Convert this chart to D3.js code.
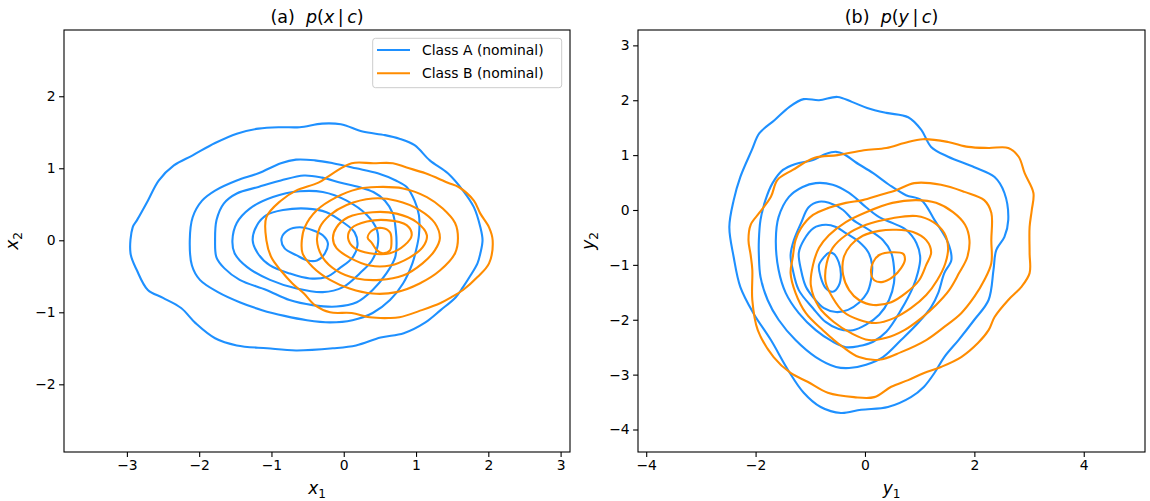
<!DOCTYPE html>
<html>
<head>
<meta charset="utf-8">
<script src="https://d3js.org/d3.v7.min.js"></script>
<style>
  body { margin: 0; background: #fff; }
  svg text { font-family: "DejaVu Sans", sans-serif; fill: #000; }
</style>
</head>
<body>
<svg id="fig" width="1150" height="501"></svg>
<script>

const blue = "#1e90ff", orange = "#ff8c00";

// panel (a)  p(x|c)
const xTicksA = [-3, -2, -1, 0, 1, 2, 3];
const yTicksA = [-2, -1, 0, 1, 2];
const xDomainA = [-3.87, 3.13];
const yDomainA = [-2.94, 2.92];

// panel (b)  p(y|c)
const xTicksB = [-4, -2, 0, 2, 4];
const yTicksB = [-4, -3, -2, -1, 0, 1, 2, 3];
const xDomainB = [-4.15, 5.12];
const yDomainB = [-4.41, 3.28];

const legendLabels = ["Class A (nominal)", "Class B (nominal)"];

// KDE contour lines, outermost level first
const contoursA_classA = [
  [[-2.92,0.18],[-2.86,0.28],[-2.71,0.55],[-2.56,0.83],[-2.35,1.04],[-2.09,1.18],[-1.78,1.35],[-1.48,1.48],[-1.18,1.55],[-0.87,1.57],[-0.61,1.57],[-0.30,1.62],[-0.04,1.61],[0.26,1.51],[0.57,1.46],[0.77,1.41],[0.98,1.32],[1.19,1.11],[1.44,0.93],[1.65,0.69],[1.80,0.46],[1.89,0.18],[1.92,0.00],[1.89,-0.18],[1.85,-0.32],[1.74,-0.51],[1.65,-0.65],[1.55,-0.79],[1.34,-0.97],[1.13,-1.14],[0.83,-1.29],[0.51,-1.35],[0.17,-1.46],[-0.15,-1.50],[-0.66,-1.53],[-1.06,-1.50],[-1.48,-1.46],[-1.78,-1.36],[-2.05,-1.15],[-2.25,-0.94],[-2.50,-0.80],[-2.71,-0.69],[-2.86,-0.42],[-2.95,-0.18]],
  [[-2.13,0.00],[-2.09,0.32],[-1.96,0.55],[-1.78,0.69],[-1.48,0.83],[-1.18,0.93],[-0.87,1.07],[-0.66,1.12],[-0.40,1.11],[-0.15,1.07],[0.17,1.00],[0.47,0.93],[0.72,0.83],[0.87,0.74],[0.98,0.55],[1.04,0.35],[1.04,0.07],[1.00,-0.14],[0.95,-0.32],[0.82,-0.60],[0.64,-0.83],[0.40,-1.01],[0.12,-1.11],[-0.19,-1.14],[-0.51,-1.11],[-0.82,-1.05],[-1.13,-0.97],[-1.44,-0.86],[-1.74,-0.72],[-1.99,-0.55],[-2.10,-0.35]],
  [[-1.78,0.00],[-1.76,0.28],[-1.66,0.51],[-1.48,0.65],[-1.18,0.74],[-0.87,0.83],[-0.55,0.90],[-0.30,0.87],[-0.04,0.80],[0.21,0.74],[0.41,0.67],[0.57,0.55],[0.68,0.37],[0.72,0.14],[0.73,-0.07],[0.71,-0.24],[0.59,-0.46],[0.40,-0.69],[0.18,-0.86],[-0.10,-0.92],[-0.43,-0.90],[-0.75,-0.83],[-1.07,-0.69],[-1.44,-0.55],[-1.65,-0.39],[-1.76,-0.24]],
  [[-1.54,0.00],[-1.48,0.24],[-1.30,0.44],[-0.98,0.60],[-0.61,0.68],[-0.29,0.67],[0.04,0.55],[0.32,0.35],[0.46,0.14],[0.47,-0.07],[0.39,-0.28],[0.22,-0.46],[-0.01,-0.65],[-0.29,-0.72],[-0.65,-0.67],[-1.02,-0.55],[-1.34,-0.37],[-1.51,-0.18]],
  [[-1.26,0.00],[-1.20,0.21],[-1.07,0.35],[-0.84,0.42],[-0.51,0.44],[-0.24,0.39],[-0.01,0.25],[0.15,0.11],[0.19,-0.07],[0.12,-0.24],[-0.06,-0.39],[-0.24,-0.51],[-0.47,-0.53],[-0.75,-0.46],[-1.02,-0.35],[-1.19,-0.18]],
  [[-0.86,0.03],[-0.77,0.14],[-0.61,0.18],[-0.43,0.14],[-0.29,0.07],[-0.22,-0.04],[-0.26,-0.18],[-0.37,-0.28],[-0.50,-0.28],[-0.65,-0.21],[-0.82,-0.11]]
];

const contoursA_classB = [
  [[-1.07,0.00],[-1.07,0.32],[-0.87,0.55],[-0.66,0.69],[-0.35,0.80],[-0.15,0.93],[0.11,1.07],[0.41,1.07],[0.68,1.07],[0.87,1.01],[1.13,0.93],[1.44,0.80],[1.59,0.74],[1.80,0.55],[1.89,0.37],[2.01,0.18],[2.06,0.00],[2.01,-0.32],[1.85,-0.51],[1.65,-0.69],[1.49,-0.79],[1.34,-0.87],[1.08,-0.97],[0.77,-1.07],[0.62,-1.08],[0.36,-1.07],[0.11,-1.01],[-0.19,-1.00],[-0.40,-0.90],[-0.55,-0.74],[-0.71,-0.60],[-0.87,-0.42],[-1.00,-0.24]],
  [[-0.58,0.00],[-0.54,0.18],[-0.37,0.42],[-0.10,0.60],[0.18,0.71],[0.46,0.74],[0.82,0.72],[1.15,0.60],[1.37,0.44],[1.54,0.24],[1.58,0.03],[1.54,-0.18],[1.33,-0.42],[1.05,-0.60],[0.73,-0.72],[0.40,-0.74],[0.08,-0.67],[-0.19,-0.55],[-0.43,-0.37],[-0.57,-0.18]],
  [[-0.37,0.00],[-0.33,0.18],[-0.19,0.35],[0.04,0.49],[0.40,0.58],[0.73,0.55],[1.05,0.42],[1.26,0.24],[1.33,0.03],[1.26,-0.14],[1.09,-0.32],[0.82,-0.49],[0.50,-0.55],[0.18,-0.53],[-0.10,-0.42],[-0.29,-0.24]],
  [[-0.15,0.03],[-0.10,0.18],[0.06,0.32],[0.40,0.39],[0.73,0.37],[1.01,0.25],[1.15,0.07],[1.09,-0.10],[0.91,-0.24],[0.64,-0.35],[0.36,-0.35],[0.08,-0.24],[-0.10,-0.11]],
  [[0.06,0.03],[0.11,0.17],[0.32,0.26],[0.59,0.28],[0.87,0.21],[0.94,0.07],[0.84,-0.07],[0.64,-0.18],[0.36,-0.18],[0.15,-0.11]],
  [[0.33,0.04],[0.40,0.14],[0.53,0.17],[0.64,0.11],[0.66,0.00],[0.64,-0.14],[0.54,-0.18],[0.46,-0.14],[0.39,-0.04]]
];

const contoursB_classA = [
  [[-2.48,-0.31],[-2.40,0.18],[-2.28,0.60],[-2.07,1.09],[-1.93,1.40],[-1.65,1.64],[-1.38,1.88],[-1.12,2.02],[-0.84,2.00],[-0.50,2.06],[-0.24,1.97],[0.04,1.86],[0.39,1.77],[0.79,1.69],[1.03,1.46],[1.21,1.15],[1.52,0.97],[2.00,0.78],[2.37,0.60],[2.55,0.31],[2.62,-0.18],[2.55,-0.49],[2.40,-0.73],[2.35,-1.09],[2.26,-1.64],[2.00,-2.00],[1.71,-2.37],[1.45,-2.68],[1.27,-2.97],[1.08,-3.22],[0.84,-3.41],[0.42,-3.59],[-0.07,-3.64],[-0.44,-3.70],[-0.81,-3.59],[-1.12,-3.33],[-1.41,-2.91],[-1.72,-2.37],[-2.04,-1.88],[-2.28,-1.40],[-2.40,-0.86]],
  [[-1.94,-0.55],[-1.91,-0.18],[-1.82,0.18],[-1.69,0.49],[-1.50,0.73],[-1.27,0.84],[-0.95,0.91],[-0.72,1.02],[-0.53,1.06],[-0.39,1.02],[-0.17,0.87],[0.15,0.67],[0.44,0.46],[0.75,0.27],[1.03,0.18],[1.27,-0.18],[1.52,-0.60],[1.58,-0.91],[1.45,-1.15],[1.34,-1.51],[1.21,-1.77],[0.97,-2.06],[0.66,-2.37],[0.33,-2.68],[0.02,-2.82],[-0.29,-2.88],[-0.53,-2.86],[-0.90,-2.68],[-1.27,-2.37],[-1.58,-2.00],[-1.78,-1.64],[-1.91,-1.22],[-1.94,-0.82]],
  [[-1.63,-0.55],[-1.58,-0.13],[-1.39,0.24],[-1.14,0.42],[-0.90,0.49],[-0.59,0.46],[-0.29,0.31],[0.02,0.05],[0.26,-0.13],[0.51,-0.24],[0.75,-0.36],[0.94,-0.60],[1.01,-0.87],[0.97,-1.13],[0.88,-1.40],[0.66,-1.82],[0.39,-2.22],[0.15,-2.40],[-0.11,-2.48],[-0.35,-2.50],[-0.59,-2.40],[-0.90,-2.19],[-1.21,-1.88],[-1.45,-1.51],[-1.58,-1.09]],
  [[-1.36,-0.82],[-1.30,-0.55],[-1.17,-0.24],[-1.03,0.05],[-0.84,0.15],[-0.66,0.13],[-0.40,0.00],[-0.22,-0.18],[0.07,-0.36],[0.33,-0.55],[0.48,-0.78],[0.53,-1.04],[0.53,-1.33],[0.44,-1.64],[0.26,-1.91],[0.02,-2.09],[-0.22,-2.19],[-0.48,-2.17],[-0.72,-2.04],[-0.95,-1.79],[-1.21,-1.46],[-1.32,-1.09]],
  [[-1.21,-0.78],[-1.12,-0.55],[-0.94,-0.33],[-0.72,-0.27],[-0.53,-0.31],[-0.35,-0.42],[-0.11,-0.58],[0.06,-0.77],[0.13,-1.00],[0.11,-1.28],[0.04,-1.51],[-0.11,-1.69],[-0.31,-1.82],[-0.53,-1.86],[-0.75,-1.79],[-0.94,-1.60],[-1.08,-1.40],[-1.17,-1.09]],
  [[-0.75,-0.86],[-0.66,-0.78],[-0.57,-0.80],[-0.48,-0.95],[-0.44,-1.18],[-0.48,-1.38],[-0.59,-1.49],[-0.72,-1.42],[-0.81,-1.22],[-0.84,-1.00]]
];

const contoursB_classB = [
  [[-2.13,-0.55],[-2.09,-0.27],[-1.93,-0.05],[-1.72,0.24],[-1.60,0.55],[-1.32,0.73],[-0.92,0.95],[-0.50,1.00],[-0.02,1.09],[0.39,1.13],[0.72,1.22],[1.06,1.29],[1.52,1.24],[1.89,1.15],[2.26,1.13],[2.62,1.13],[2.81,0.97],[2.92,0.67],[3.08,0.31],[3.05,0.00],[3.01,-0.31],[3.01,-0.78],[3.01,-1.15],[2.86,-1.40],[2.62,-1.64],[2.37,-1.95],[2.26,-2.19],[2.07,-2.42],[1.76,-2.68],[1.39,-2.86],[1.08,-2.97],[0.79,-3.10],[0.48,-3.22],[0.17,-3.41],[-0.20,-3.41],[-0.68,-3.33],[-1.05,-3.13],[-1.36,-2.97],[-1.67,-2.68],[-1.96,-2.19],[-2.06,-1.64],[-2.06,-1.09],[-2.09,-0.82]],
  [[-1.32,-0.86],[-1.27,-0.55],[-1.17,-0.33],[-0.95,-0.09],[-0.66,0.04],[-0.35,0.13],[-0.04,0.18],[0.26,0.27],[0.57,0.36],[0.90,0.49],[1.39,0.46],[1.82,0.33],[2.18,0.18],[2.31,-0.05],[2.31,-0.55],[2.31,-0.97],[2.18,-1.28],[2.00,-1.58],[1.76,-1.88],[1.45,-2.13],[1.12,-2.37],[0.66,-2.59],[0.26,-2.73],[-0.11,-2.68],[-0.40,-2.50],[-0.77,-2.19],[-1.08,-1.88],[-1.27,-1.51],[-1.36,-1.15]],
  [[-0.99,-1.37],[-0.95,-1.00],[-0.84,-0.69],[-0.66,-0.46],[-0.35,-0.22],[0.02,-0.04],[0.50,0.13],[0.94,0.18],[1.30,0.13],[1.61,-0.04],[1.83,-0.27],[1.91,-0.55],[1.87,-0.86],[1.72,-1.15],[1.54,-1.46],[1.30,-1.73],[1.03,-1.97],[0.72,-2.19],[0.39,-2.33],[0.07,-2.37],[-0.26,-2.24],[-0.57,-2.04],[-0.84,-1.77]],
  [[-0.72,-1.31],[-0.70,-0.97],[-0.59,-0.69],[-0.35,-0.46],[0.02,-0.27],[0.50,-0.15],[0.94,-0.11],[1.25,-0.22],[1.45,-0.42],[1.52,-0.69],[1.47,-0.97],[1.32,-1.28],[1.12,-1.55],[0.84,-1.79],[0.53,-1.97],[0.20,-2.06],[-0.11,-2.00],[-0.39,-1.86],[-0.59,-1.60]],
  [[-0.40,-1.18],[-0.39,-0.87],[-0.26,-0.64],[-0.04,-0.47],[0.26,-0.38],[0.57,-0.36],[0.88,-0.40],[1.12,-0.55],[1.21,-0.77],[1.12,-1.00],[0.99,-1.28],[0.75,-1.51],[0.48,-1.68],[0.15,-1.73],[-0.11,-1.64],[-0.29,-1.46]],
  [[0.15,-0.95],[0.26,-0.82],[0.51,-0.77],[0.70,-0.80],[0.73,-0.91],[0.66,-1.06],[0.51,-1.22],[0.33,-1.31],[0.17,-1.28],[0.11,-1.13]]
];

const svg = d3.select("#fig");
svg.append("rect").attr("width", 1150).attr("height", 501).attr("fill", "#fff");

const panels = [
  { box: [64, 570, 30, 452], xd: xDomainA, yd: yDomainA, xt: xTicksA, yt: yTicksA,
    blue: contoursA_classA, orange: contoursA_classB,
    title: ["(a)  ", "p", "(", "x", "\u2009|\u2009", "c", ")"], xl: ["x", "1"], yl: ["x", "2"], ylx: 18 },
  { box: [638, 1145, 30, 452], xd: xDomainB, yd: yDomainB, xt: xTicksB, yt: yTicksB,
    blue: contoursB_classA, orange: contoursB_classB,
    title: ["(b)  ", "p", "(", "y", "\u2009|\u2009", "c", ")"], xl: ["y", "1"], yl: ["y", "2"], ylx: 594 }
];

const fmt = d3.format("d");

panels.forEach(function(p) {
  const [l, r, t, b] = p.box;
  const x = d3.scaleLinear().domain(p.xd).range([l, r]);
  const y = d3.scaleLinear().domain(p.yd).range([b, t]);
  const g = svg.append("g");

  const clipId = "clip" + l;
  g.append("clipPath").attr("id", clipId)
    .append("rect").attr("x", l).attr("y", t).attr("width", r - l).attr("height", b - t);

  const line = d3.line().x(d => x(d[0])).y(d => y(d[1])).curve(d3.curveCatmullRomClosed.alpha(0.5));

  const plot = g.append("g").attr("clip-path", "url(#" + clipId + ")");
  plot.selectAll("path.a").data(p.blue).enter().append("path")
    .attr("class", "a").attr("d", line)
    .attr("fill", "none").attr("stroke", blue).attr("stroke-width", 2.1);
  plot.selectAll("path.b").data(p.orange).enter().append("path")
    .attr("class", "b").attr("d", line)
    .attr("fill", "none").attr("stroke", orange).attr("stroke-width", 2.1);

  // axes
  const ax = g.append("g").attr("transform", "translate(0," + b + ")")
    .call(d3.axisBottom(x).tickValues(p.xt).tickFormat(fmt).tickSize(4.9).tickPadding(3.5).tickSizeOuter(0));
  const ay = g.append("g").attr("transform", "translate(" + l + ",0)")
    .call(d3.axisLeft(y).tickValues(p.yt).tickFormat(fmt).tickSize(4.9).tickPadding(3.5).tickSizeOuter(0));
  [ax, ay].forEach(function(a) {
    a.select(".domain").remove();
    a.selectAll(".tick line").attr("stroke", "#000").attr("stroke-width", 1.1);
    a.selectAll(".tick text").attr("font-size", "13.9px").attr("font-family", "DejaVu Sans").attr("fill", "#000");
  });

  // spines
  g.append("rect").attr("x", l).attr("y", t).attr("width", r - l).attr("height", b - t)
    .attr("fill", "none").attr("stroke", "#000").attr("stroke-width", 1.1);

  // title
  const tt = g.append("text").attr("x", (l + r) / 2).attr("y", 23)
    .attr("text-anchor", "middle").attr("font-size", "17.5px");
  p.title.forEach(function(s, i) {
    tt.append("tspan").text(s)
      .attr("font-style", (i === 1 || i === 3 || i === 5) ? "italic" : "normal")
      .attr("xml:space", "preserve");
  });

  // x label
  const xl = g.append("text").attr("x", (l + r) / 2).attr("y", 494)
    .attr("text-anchor", "middle").attr("font-size", "17px");
  xl.append("tspan").attr("font-style", "italic").text(p.xl[0]);
  xl.append("tspan").attr("font-size", "12px").attr("dy", "4").text(p.xl[1]);

  // y label
  const yl = g.append("text").attr("transform", "translate(" + p.ylx + "," + ((t + b) / 2) + ") rotate(-90)")
    .attr("text-anchor", "middle").attr("font-size", "17px");
  yl.append("tspan").attr("font-style", "italic").text(p.yl[0]);
  yl.append("tspan").attr("font-size", "12px").attr("dy", "4").text(p.yl[1]);
});

// legend in panel (a)
const lg = svg.append("g");
lg.append("rect").attr("x", 372.7).attr("y", 38.3).attr("width", 189).attr("height", 49.4)
  .attr("rx", 2.8).attr("fill", "#fff").attr("fill-opacity", 0.8)
  .attr("stroke", "#cccccc").attr("stroke-width", 1);
const legColors = [blue, orange];
legendLabels.forEach(function(s, i) {
  const yy = 50 + i * 23.3;
  lg.append("line").attr("x1", 377).attr("x2", 410).attr("y1", yy).attr("y2", yy)
    .attr("stroke", legColors[i]).attr("stroke-width", 2.1);
  lg.append("text").attr("x", 422).attr("y", yy + 5).attr("font-size", "13.9px").text(s);
});

</script>
</body>
</html>
